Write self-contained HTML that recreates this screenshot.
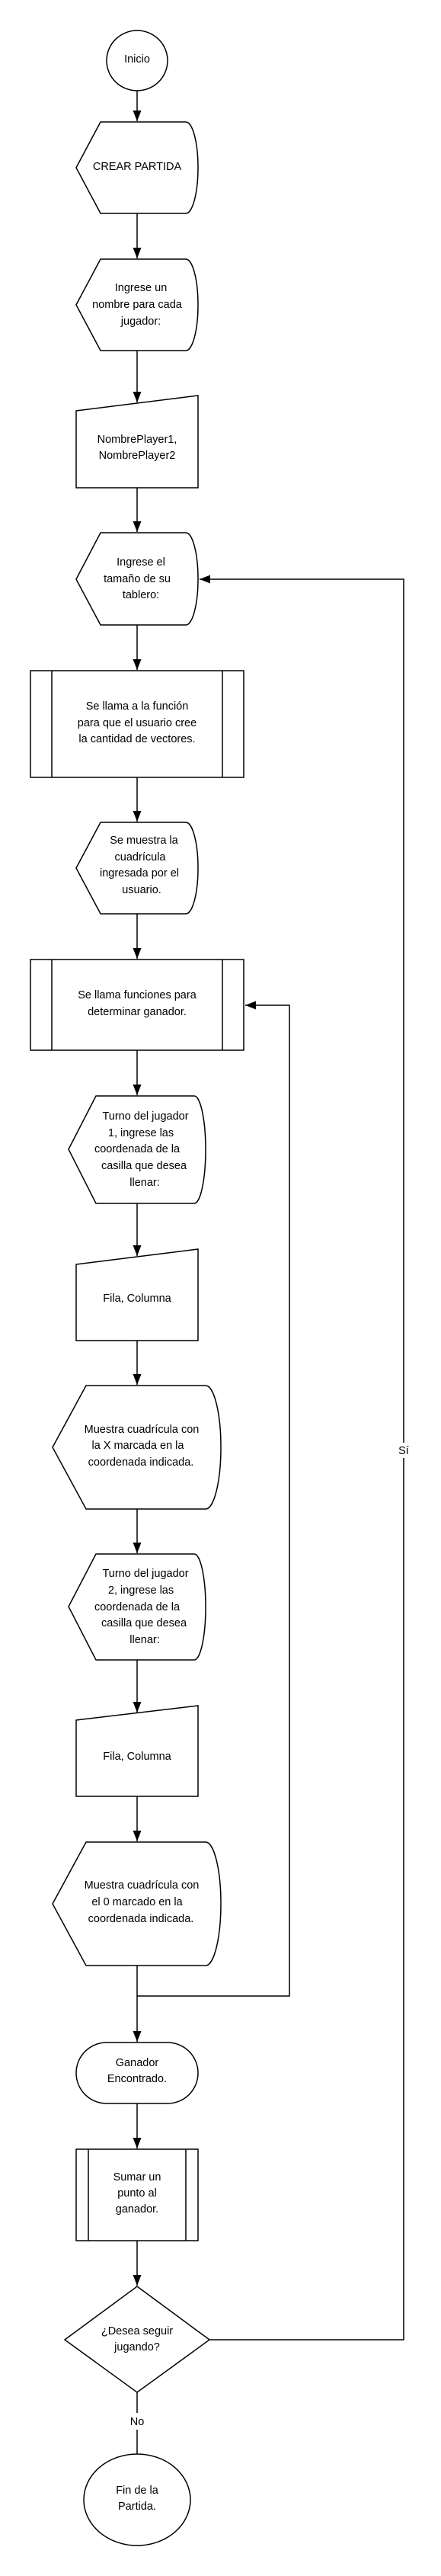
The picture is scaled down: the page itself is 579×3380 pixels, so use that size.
<!DOCTYPE html>
<html><head><meta charset="utf-8"><style>
html,body{margin:0;padding:0;background:#fff}
svg{display:block}
text{font-family:"Liberation Sans",sans-serif;font-size:14.5px;fill:#000;text-anchor:middle}
</style></head><body>
<svg width="579" height="3380" viewBox="0 0 579 3380" xmlns="http://www.w3.org/2000/svg">
<defs><marker id="a" markerWidth="16" markerHeight="12" refX="14" refY="5.5" orient="auto" markerUnits="userSpaceOnUse"><path d="M0,0 L14,5.5 L0,11 Z" fill="#000"/></marker></defs>
<g fill="#fff" stroke="#000" stroke-width="1.5">
<ellipse cx="180" cy="79.5" rx="40" ry="39.5"/>
<path d="M100,220 L132,160 L244,160 A16,60 0 0 1 244,280 L132,280 Z"/>
<path d="M100,400 L132,340 L244,340 A16,60 0 0 1 244,460 L132,460 Z"/>
<path d="M100,539 L260,519 L260,640 L100,640 Z"/>
<path d="M100,760 L132,699 L244,699 A16,60.5 0 0 1 244,820 L132,820 Z"/>
<rect x="40" y="880" width="280" height="140"/><line x1="68" y1="880" x2="68" y2="1020"/><line x1="292" y1="880" x2="292" y2="1020"/>
<path d="M100,1139 L132,1079 L244,1079 A16,60 0 0 1 244,1199 L132,1199 Z"/>
<rect x="40" y="1259" width="280" height="119"/><line x1="68" y1="1259" x2="68" y2="1378"/><line x1="292" y1="1259" x2="292" y2="1378"/>
<path d="M90,1508 L126,1438 L255,1438 A15,70.5 0 0 1 255,1579 L126,1579 Z"/>
<path d="M100,1659 L260,1639 L260,1759 L100,1759 Z"/>
<path d="M69,1899 L113,1818 L270,1818 A20,81 0 0 1 270,1980 L113,1980 Z"/>
<path d="M90,2108 L126,2039 L255,2039 A15,69.5 0 0 1 255,2178 L126,2178 Z"/>
<path d="M100,2257 L260,2238 L260,2357 L100,2357 Z"/>
<path d="M69,2498 L113,2417 L270,2417 A20,81 0 0 1 270,2579 L113,2579 Z"/>
<rect x="100" y="2680" width="160" height="80" rx="40"/>
<rect x="100" y="2820" width="160" height="120"/><line x1="116" y1="2820" x2="116" y2="2940"/><line x1="244" y1="2820" x2="244" y2="2940"/>
<path d="M180,3000 L275,3070 L180,3139 L85,3070 Z"/>
<ellipse cx="180" cy="3280" rx="70" ry="60"/>
</g>
<g fill="none" stroke="#000" stroke-width="1.5" marker-end="url(#a)">
<line x1="180" y1="119" x2="180" y2="159"/>
<line x1="180" y1="280" x2="180" y2="339"/>
<line x1="180" y1="460" x2="180" y2="528"/>
<line x1="180" y1="640" x2="180" y2="698"/>
<line x1="180" y1="820" x2="180" y2="879"/>
<line x1="180" y1="1020" x2="180" y2="1078"/>
<line x1="180" y1="1199" x2="180" y2="1258"/>
<line x1="180" y1="1378" x2="180" y2="1437"/>
<line x1="180" y1="1579" x2="180" y2="1648"/>
<line x1="180" y1="1759" x2="180" y2="1817"/>
<line x1="180" y1="1980" x2="180" y2="2038"/>
<line x1="180" y1="2178" x2="180" y2="2247"/>
<line x1="180" y1="2357" x2="180" y2="2416"/>
<line x1="180" y1="2579" x2="180" y2="2679"/>
<line x1="180" y1="2760" x2="180" y2="2819"/>
<line x1="180" y1="2940" x2="180" y2="2999"/>
<polyline points="180,2619 380,2619 380,1319 322,1319"/>
<polyline points="275,3070 530,3070 530,760 262,760"/>
</g>
<line x1="180" y1="3139" x2="180" y2="3166" stroke="#000" stroke-width="1.5"/>
<line x1="180" y1="3188" x2="180" y2="3220" stroke="#000" stroke-width="1.5"/>
<rect x="520" y="1893" width="20" height="20" fill="#fff"/>
<text x="530" y="1908">Sí</text>
<text x="180" y="3182">No</text>
<text x="180" y="82">Inicio</text>
<text x="180" y="223">CREAR PARTIDA</text>
<text><tspan x="185" y="382">Ingrese un</tspan><tspan x="180" y="404">nombre para cada</tspan><tspan x="185" y="426">jugador:</tspan></text>
<text><tspan x="180" y="581">NombrePlayer1,</tspan><tspan x="180" y="602">NombrePlayer2</tspan></text>
<text><tspan x="185" y="742">Ingrese el</tspan><tspan x="180" y="764">tamaño de su</tspan><tspan x="185" y="785">tablero:</tspan></text>
<text><tspan x="180" y="931">Se llama a la función</tspan><tspan x="180" y="953">para que el usuario cree</tspan><tspan x="180" y="974">la cantidad de vectores.</tspan></text>
<text><tspan x="189" y="1107">Se muestra la</tspan><tspan x="184" y="1129">cuadrícula</tspan><tspan x="183" y="1150">ingresada por el</tspan><tspan x="186" y="1172">usuario.</tspan></text>
<text><tspan x="180" y="1310">Se llama funciones para</tspan><tspan x="180" y="1332">determinar ganador.</tspan></text>
<text><tspan x="191" y="1469">Turno del jugador</tspan><tspan x="185" y="1491">1, ingrese las</tspan><tspan x="180" y="1512">coordenada de la</tspan><tspan x="189" y="1534">casilla que desea</tspan><tspan x="190" y="1556">llenar:</tspan></text>
<text x="180" y="1708">Fila, Columna</text>
<text><tspan x="186" y="1880">Muestra cuadrícula con</tspan><tspan x="181" y="1901">la X marcada en la</tspan><tspan x="185" y="1923">coordenada indicada.</tspan></text>
<text><tspan x="191" y="2069">Turno del jugador</tspan><tspan x="185" y="2091">2, ingrese las</tspan><tspan x="180" y="2113">coordenada de la</tspan><tspan x="189" y="2134">casilla que desea</tspan><tspan x="190" y="2156">llenar:</tspan></text>
<text x="180" y="2309">Fila, Columna</text>
<text><tspan x="186" y="2478">Muestra cuadrícula con</tspan><tspan x="180" y="2500">el 0 marcado en la</tspan><tspan x="185" y="2522">coordenada indicada.</tspan></text>
<text><tspan x="180" y="2711">Ganador</tspan><tspan x="180" y="2732">Encontrado.</tspan></text>
<text><tspan x="180" y="2861">Sumar un</tspan><tspan x="180" y="2882">punto al</tspan><tspan x="180" y="2903">ganador.</tspan></text>
<text><tspan x="180" y="3063">¿Desea seguir</tspan><tspan x="180" y="3084">jugando?</tspan></text>
<text><tspan x="180" y="3272">Fin de la</tspan><tspan x="180" y="3293">Partida.</tspan></text>
</svg>
</body></html>
